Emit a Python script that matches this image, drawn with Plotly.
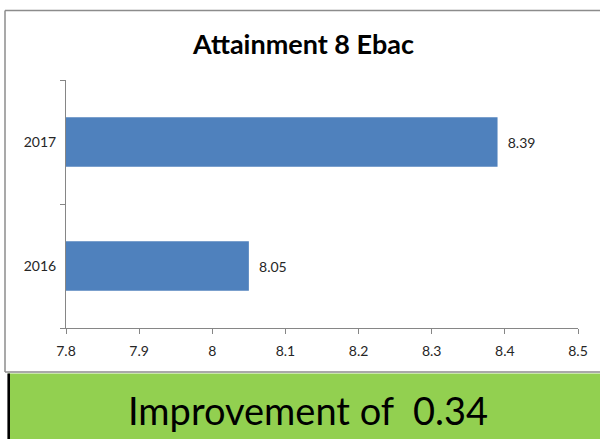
import plotly.graph_objects as go

years = ["2016", "2017"]
scores = [8.05, 8.39]
x_ticks = [7.8, 7.9, 8.0, 8.1, 8.2, 8.3, 8.4, 8.5]
x_tick_labels = ["7.8", "7.9", "8", "8.1", "8.2", "8.3", "8.4", "8.5"]
title_text = "Attainment 8 Ebac"
improvement = scores[1] - scores[0]

W, H = 600, 439
def px(x):
    return x / W
def py(y):
    return 1 - y / H

FONT = "Lato, 'Open Sans', sans-serif"
FRAME = "#8C8C8C"

fig = go.Figure(go.Bar(
    y=years, x=scores, orientation="h",
    marker=dict(color="#4F81BD", line=dict(width=0)),
    text=[f"\u00a0\u00a0{v:.2f}" for v in scores], textposition="outside",
    textfont=dict(family=FONT, size=14, color="#262626"),
    cliponaxis=False,
))

fig.update_layout(
    width=W, height=H,
    margin=dict(l=0, r=0, t=0, b=0),
    paper_bgcolor="white", plot_bgcolor="white",
    showlegend=False,
    bargap=0.6,
    xaxis=dict(
        domain=[px(66), px(578)], range=[7.8, 8.5],
        tickvals=x_ticks, ticktext=x_tick_labels,
        showgrid=False, zeroline=False,
        showline=True, linecolor="#868686", linewidth=1,
        ticks="outside", ticklen=5, tickcolor="#868686",
        tickfont=dict(family=FONT, size=14, color="#262626"),
        ticklabelstandoff=5,
        anchor="y", automargin=False,
    ),
    yaxis=dict(
        domain=[py(328), py(80)], range=[-0.5, 1.5],
        type="category", categoryorder="array", categoryarray=years,
        showgrid=False, zeroline=False,
        showline=True, linecolor="#868686", linewidth=1,
        ticks="outside", ticklen=5, tickcolor="#868686", tickson="boundaries",
        tickfont=dict(family=FONT, size=14, color="#262626"),
        ticklabelstandoff=6,
        anchor="x", automargin=False,
    ),
    shapes=[
        dict(type="line", xref="paper", yref="paper",
             x0=px(5), x1=1.1, y0=py(10.5), y1=py(10.5),
             line=dict(color=FRAME, width=1.5)),
        dict(type="line", xref="paper", yref="paper",
             x0=px(5), x1=px(5), y0=py(372), y1=py(10.5),
             line=dict(color=FRAME, width=1.5)),
        dict(type="line", xref="paper", yref="paper",
             x0=px(5), x1=1.1, y0=py(372), y1=py(372),
             line=dict(color=FRAME, width=1.5)),
        dict(type="rect", xref="paper", yref="paper",
             x0=px(8), x1=1.1, y0=-0.1, y1=py(373.5),
             line=dict(width=0), fillcolor="#92D050", layer="below"),
        dict(type="line", xref="paper", yref="paper",
             x0=px(8.7), x1=px(8.7), y0=-0.1, y1=py(373.5),
             line=dict(color="black", width=2.6)),
    ],
    annotations=[
        dict(text=f"<b>{title_text}</b>", xref="paper", yref="paper",
             x=px(303), y=py(43), xanchor="center", yanchor="middle", showarrow=False,
             font=dict(family=FONT, size=27, color="black")),
        dict(text=f"Improvement of\u00a0 {improvement:.2f}", xref="paper", yref="paper",
             x=px(308), y=py(410), xanchor="center", yanchor="middle", showarrow=False,
             font=dict(family=FONT, size=38, color="black")),
    ],
)

fig.write_html("out.html", config={"displayModeBar": False},
               post_script="document.body.style.margin='0';document.body.style.overflow='hidden';")
